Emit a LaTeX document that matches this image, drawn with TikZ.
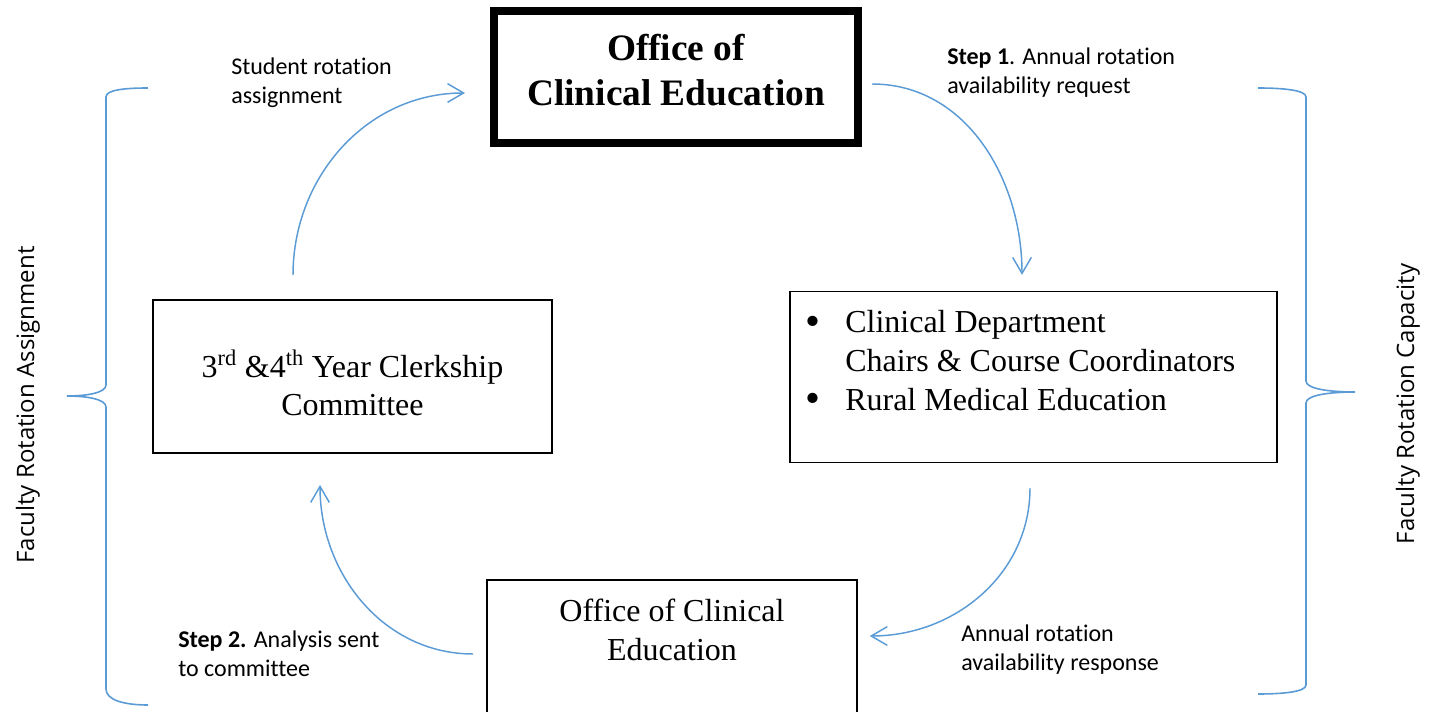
\documentclass[tikz,border=0pt]{standalone}
\usepackage{fontspec}
\setmainfont{Liberation Serif}
\newfontfamily\calibri[Ligatures=NoCommon]{Carlito}
\newfontfamily\opensans{Open Sans}
\usepackage{xcolor}
\usepackage{tikz}
\usetikzlibrary{arrows.meta,calc}
\definecolor{lineblue}{HTML}{5B9BD5}
\newcommand{\bigdot}{\raisebox{-1.6pt}{\fontsize{32}{29}\selectfont\textbullet}}

\begin{document}
\begin{tikzpicture}[x=0.75pt,y=0.75pt,
  box/.style={draw=black,line width=1.2pt,rectangle,inner sep=0pt},
  serif/.style={font=\fontsize{24}{29}\selectfont,align=center,inner sep=0pt},
  lbl/.style={font=\calibri\fontsize{18}{21.75}\selectfont,align=left,anchor=west,inner sep=0pt},
  side/.style={font=\opensans\fontsize{18}{22}\selectfont,rotate=90,inner sep=0pt},
  flow/.style={lineblue,line width=1.1pt,-{Straight Barb[length=12pt,width=14pt]}},
  brace/.style={lineblue,line width=1.2pt}]
\clip(0,0)rectangle(1436,-712);
% boxes
\node[box,line width=6pt,minimum width=273pt,minimum height=99pt](office)at(676,-77){};
\node[serif,font=\fontsize{28}{33.75}\selectfont\bfseries](officetext)at(676,-70){Office of\\Clinical Education};
\node[box,minimum width=299.5pt,minimum height=115pt](clerk)at(352.5,-376.5){};
\node[serif](clerktext)at(352.5,-383){3\textsuperscript{rd} \&4\textsuperscript{th} Year Clerkship\\Committee};
\node[box,minimum width=365.5pt,minimum height=128pt](dept)at(1033.5,-377){};
\node[serif,anchor=base west,align=left](deptlist)at(805,-333){%
  \begin{tabular}[t]{@{}p{30pt}@{}l@{}}
  \bigdot&Clinical Department\\
  &Chairs \& Course Coordinators\\
  \bigdot&Rural Medical Education
  \end{tabular}};
\node[box,minimum width=277.5pt,minimum height=135pt](ecol)at(672,-670){};
\node[serif](ecoltext)at(672,-630){Office of Clinical\\Education};
% arrows
\draw[flow]($(clerk.north)+(-59.5,24)$)to[out=90,in=180]($(office.west)+(-25,-16)$);
\draw[flow]($(office.east)+(10,-7)$)to[out=0,in=90]($(dept.north)+(-11.5,16)$);
\draw[flow]($(dept.south)+(-3.5,-25)$)to[out=-90,in=0]($(ecol.east)+(12,34)$);
\draw[flow]($(ecol.west)+(-13,16)$)to[out=180,in=-90]($(clerk.south)+(-32.5,-31)$);
% labels
\node[lbl](stu)at(231,-82.5){Student rotation\\assignment};
\node[lbl](step1)at(947,-73){\textbf{Step 1}. Annual rotation\\availability request};
\node[lbl](resp)at(961,-649.5){Annual rotation\\availability response};
\node[lbl](step2)at(178,-653.5){\textbf{Step 2.} Analysis sent\\to committee};
% braces
\draw[brace](148,-88)..controls(124,-88)and(106,-90)..(106,-97)--(106,-385)
  ..controls(106,-393)and(86,-396)..(67,-396)..controls(86,-396)and(106,-399)..(106,-407)
  --(106,-689)..controls(106,-700)and(124,-705)..(148,-705);
\draw[brace](1258,-88)..controls(1282,-88)and(1306,-90)..(1306,-97)--(1306,-381)
  ..controls(1306,-389)and(1330,-392)..(1355,-392)..controls(1330,-392)and(1306,-395)..(1306,-403)
  --(1306,-685)..controls(1306,-692)and(1282,-694)..(1258,-694);
\node[side](fra)at(28,-405){Faculty Rotation Assignment};
\node[side](frc)at(1408,-404){Faculty Rotation Capacity};
\end{tikzpicture}
\end{document}
